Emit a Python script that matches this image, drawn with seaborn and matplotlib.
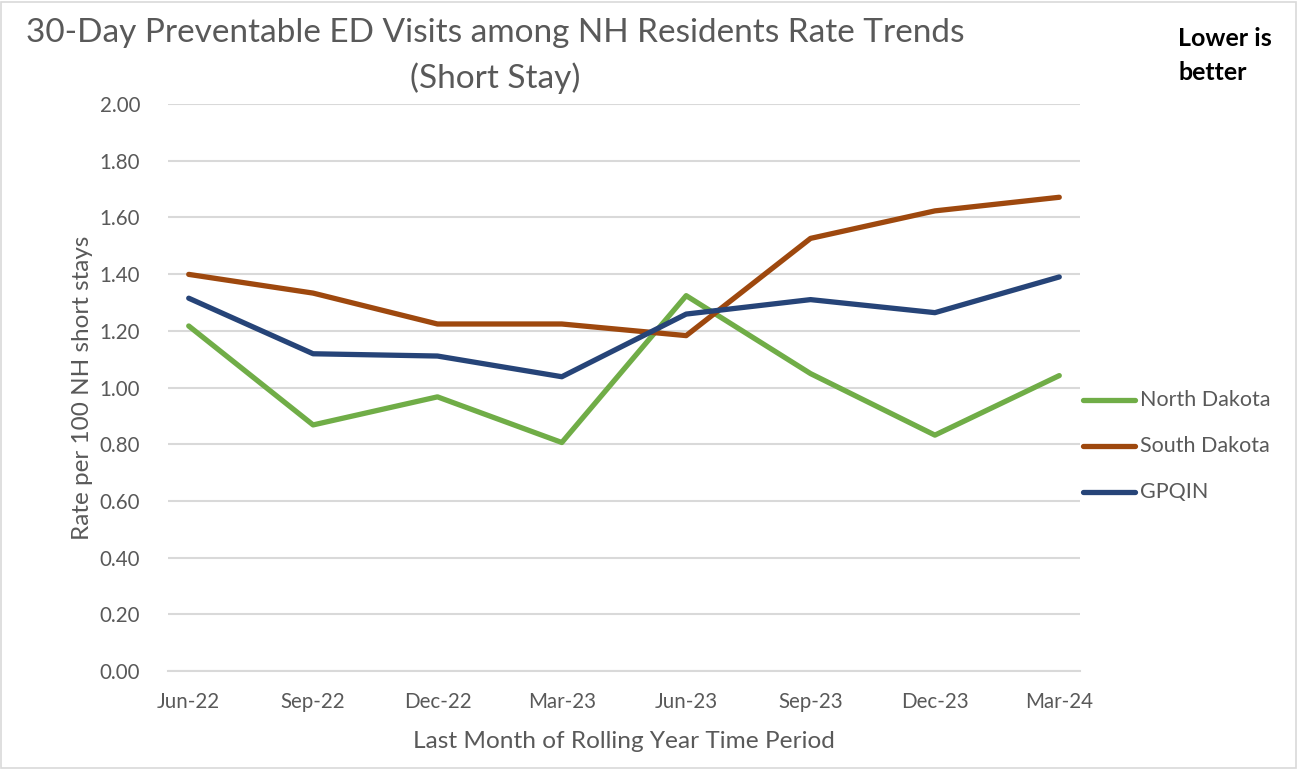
import numpy as np
import pandas as pd
import matplotlib
matplotlib.use("Agg")
import matplotlib.pyplot as plt
import seaborn as sns
from matplotlib.patches import Rectangle

# ---- data ----
periods = ["Jun-22", "Sep-22", "Dec-22", "Mar-23", "Jun-23", "Sep-23", "Dec-23", "Mar-24"]
month_index = [0, 3, 6, 9, 12, 15, 18, 21]
north_dakota = [1.217, 0.868, 0.967, 0.806, 1.324, 1.049, 0.832, 1.042]
south_dakota = [1.399, 1.333, 1.224, 1.224, 1.183, 1.526, 1.623, 1.671]
gpqin = [1.315, 1.119, 1.111, 1.038, 1.259, 1.310, 1.264, 1.390]
series_names = ["North Dakota", "South Dakota", "GPQIN"]
colors = ["#70AD47", "#9E480E", "#264478"]

df = pd.DataFrame({
    "x": month_index * 3,
    "value": north_dakota + south_dakota + gpqin,
    "series": [series_names[0]] * 8 + [series_names[1]] * 8 + [series_names[2]] * 8,
})

sns.set_theme(style="white")
plt.rcParams["font.family"] = ["Lato", "DejaVu Sans"]

fig = plt.figure(figsize=(12.98, 7.69), dpi=100)
ax = fig.add_axes([168 / 1298, 1 - 671 / 769, (1080 - 168) / 1298, (671 - 104) / 769])

sns.lineplot(data=df, x="x", y="value", hue="series", hue_order=series_names,
             palette=colors, linewidth=3.8, ax=ax, legend=False,
             solid_capstyle="round", solid_joinstyle="round")

ax.set_xlim(-0.5, 21.5)
ax.set_ylim(0, 2.0)
ax.set_yticks(np.arange(0, 2.01, 0.2))
ax.set_yticklabels([f"{v:.2f}" for v in np.arange(0, 2.01, 0.2)], color="#595959", fontsize=14.8)
ax.set_xticks(month_index)
ax.set_xticklabels(periods, color="#595959", fontsize=14.8)
ax.set_xticks(np.arange(-0.5, 21.6, 3), minor=True)
ax.tick_params(axis="x", which="major", length=0, pad=15)
ax.tick_params(axis="x", which="minor", length=6, width=1.5, color="#D9D9D9")
ax.tick_params(axis="y", length=0, pad=20)
ax.grid(axis="y", color="#D9D9D9", linewidth=1.5)
ax.set_axisbelow(True)
for s in ["top", "right", "left"]:
    ax.spines[s].set_visible(False)
ax.spines["bottom"].set_color("#D9D9D9")
ax.spines["bottom"].set_linewidth(1.5)

ax.set_xlabel("Last Month of Rolling Year Time Period", color="#595959", fontsize=17.6, labelpad=14)
ax.set_ylabel("Rate per 100 NH short stays", color="#595959", fontsize=17.5, labelpad=5)

fig.text(495 / 1298, 1 - 33 / 769, "30-Day Preventable ED Visits among NH Residents Rate Trends",
         ha="center", va="center", fontsize=24, color="#595959")
fig.text(495 / 1298, 1 - 78 / 769, "(Short Stay)",
         ha="center", va="center", fontsize=24, color="#595959")

fig.text(1178 / 1298, 1 - 38 / 769, "Lower is", ha="left", va="center",
         fontsize=18, fontweight="bold", color="black")
fig.text(1178 / 1298, 1 - 72 / 769, "better", ha="left", va="center",
         fontsize=18, fontweight="bold", color="black")

# legend
for i, (name, c) in enumerate(zip(series_names, colors)):
    y = 1 - (400 + 46 * i) / 769
    fig.add_artist(plt.Line2D([1083 / 1298, 1135 / 1298], [y, y], color=c, linewidth=3.8,
                              solid_capstyle="round", transform=fig.transFigure))
    fig.text(1140 / 1298, y, name, ha="left", va="center", fontsize=15.5, color="#595959")

fig.add_artist(Rectangle((1 / 1298, 1 / 769), 1295 / 1298, 766 / 769, transform=fig.transFigure,
                         fill=False, edgecolor="#D9D9D9", linewidth=1.2))

fig.savefig("out.png", dpi=100, facecolor="white")
